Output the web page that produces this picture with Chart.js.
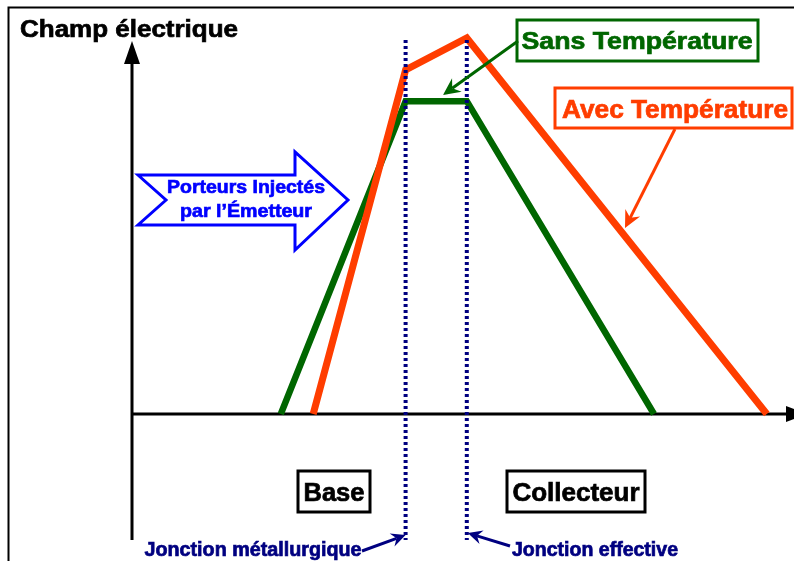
<!DOCTYPE html>
<html lang="fr">
<head>
<meta charset="utf-8">
<title>Champ électrique</title>
<script src="https://cdn.jsdelivr.net/npm/chart.js@4.4.1/dist/chart.umd.min.js"></script>
<style>
  html, body { margin: 0; padding: 0; background: #fff; }
  #wrap { width: 794px; height: 561px; }
</style>
</head>
<body>
<div id="wrap"><canvas id="champ" width="794" height="561"></canvas></div>
<script>
// Profil du champ électrique à travers la jonction base-collecteur
const positionsSansT = [24.8, 45.6, 55.8, 87.0];
const champSansT = [0, 78.2, 78.2, 0];
const positionsAvecT = [30.2, 45.6, 55.8, 105.8];
const champAvecT = [0, 86.0, 94.0, 0];

// Jonctions (traits pointillés verticaux)
const jonctionMetallurgique = 45.6;
const jonctionEffective = 55.8;
const jonctionExtent = [93.5, -31.5];

const ROUGE = '#ff3d00';
const VERT = '#006600';
const MARINE = '#000080';
const BLEU = '#0000ff';
const POLICE = '"Liberation Sans", Arial, sans-serif';

function toPoints(xs, ys) {
    return xs.map((x, i) => ({ x: x, y: ys[i] }));
}

function verticale(x) {
    return jonctionExtent.map(y => ({ x: x, y: y }));
}

// Flèche avec pointe pleine
function fleche(ctx, x1, y1, x2, y2, color, width, head) {
    const a = Math.atan2(y2 - y1, x2 - x1);
    ctx.save();
    ctx.strokeStyle = color;
    ctx.fillStyle = color;
    ctx.lineWidth = width;
    ctx.beginPath();
    ctx.moveTo(x1, y1);
    ctx.lineTo(x2 - Math.cos(a) * head * 0.6, y2 - Math.sin(a) * head * 0.6);
    ctx.stroke();
    ctx.beginPath();
    ctx.moveTo(x2, y2);
    ctx.lineTo(x2 - head * Math.cos(a - 0.45), y2 - head * Math.sin(a - 0.45));
    ctx.lineTo(x2 - head * 0.6 * Math.cos(a), y2 - head * 0.6 * Math.sin(a));
    ctx.lineTo(x2 - head * Math.cos(a + 0.45), y2 - head * Math.sin(a + 0.45));
    ctx.closePath();
    ctx.fill();
    ctx.restore();
}

// Texte gras centré, étiré à la largeur voulue
function texte(ctx, str, cx, baseline, size, width, color) {
    ctx.save();
    ctx.font = 'bold ' + size + 'px ' + POLICE;
    const w = ctx.measureText(str).width;
    ctx.translate(cx, baseline);
    ctx.scale(width / w, 1);
    ctx.fillStyle = color;
    ctx.strokeStyle = color;
    ctx.lineWidth = 0.7;
    ctx.textAlign = 'center';
    ctx.textBaseline = 'alphabetic';
    ctx.fillText(str, 0, 0);
    ctx.strokeText(str, 0, 0);
    ctx.restore();
}

function cadre(ctx, x1, y1, x2, y2, color) {
    ctx.save();
    ctx.strokeStyle = color;
    ctx.lineWidth = 3;
    ctx.strokeRect(x1, y1, x2 - x1, y2 - y1);
    ctx.restore();
}

const schemaPlugin = {
    id: 'schema',
    beforeDatasetsDraw(chart) {
        const ctx = chart.ctx;
        const xs = chart.scales.x, ys = chart.scales.y;
        const x0 = xs.getPixelForValue(0);
        const y0 = ys.getPixelForValue(0);
        ctx.save();
        // bordure de la diapositive
        ctx.strokeStyle = '#000';
        ctx.lineWidth = 2;
        ctx.beginPath();
        ctx.moveTo(8.5, 561);
        ctx.lineTo(8.5, 7.5);
        ctx.lineTo(794, 7.5);
        ctx.stroke();

        // axes
        ctx.lineWidth = 3;
        ctx.beginPath();
        ctx.moveTo(x0, ys.getPixelForValue(jonctionExtent[1]));
        ctx.lineTo(x0, 60);
        ctx.moveTo(x0, y0);
        ctx.lineTo(788, y0);
        ctx.stroke();
        ctx.fillStyle = '#000';
        ctx.beginPath();
        ctx.moveTo(x0, 41);
        ctx.lineTo(x0 - 8, 64);
        ctx.lineTo(x0 + 8, 64);
        ctx.closePath();
        ctx.fill();
        ctx.beginPath();
        ctx.moveTo(808, y0);
        ctx.lineTo(786, y0 - 8);
        ctx.lineTo(786, y0 + 8);
        ctx.closePath();
        ctx.fill();
        ctx.restore();
    },
    afterDatasetsDraw(chart) {
        const ctx = chart.ctx;
        const xs = chart.scales.x;
        const xm = xs.getPixelForValue(jonctionMetallurgique);
        const xe = xs.getPixelForValue(jonctionEffective);

        texte(ctx, 'Champ électrique', 129, 37, 24, 218, '#000');

        // porteurs injectés (flèche bleue)
        ctx.save();
        ctx.strokeStyle = BLEU;
        ctx.lineWidth = 3;
        ctx.lineJoin = 'miter';
        ctx.beginPath();
        ctx.moveTo(138, 175);
        ctx.lineTo(295, 175);
        ctx.lineTo(295, 152);
        ctx.lineTo(348, 200);
        ctx.lineTo(295, 250);
        ctx.lineTo(295, 225);
        ctx.lineTo(138, 225);
        ctx.lineTo(166, 200);
        ctx.closePath();
        ctx.stroke();
        ctx.restore();
        texte(ctx, 'Porteurs Injectés', 246, 193, 18.5, 158, BLEU);
        texte(ctx, 'par l\u2019Émetteur', 246, 217, 18.5, 132, BLEU);

        // légendes des courbes
        cadre(ctx, 517, 20, 758, 61, VERT);
        texte(ctx, 'Sans Température', 637, 49, 24, 231, VERT);
        fleche(ctx, 518, 41, 443, 95, VERT, 3, 19);

        cadre(ctx, 555, 88, 792, 128, ROUGE);
        texte(ctx, 'Avec Température', 675, 118, 25, 226, ROUGE);
        fleche(ctx, 675, 129, 625, 228, ROUGE, 3, 19);

        // régions
        cadre(ctx, 298, 471, 370, 512, '#000');
        texte(ctx, 'Base', 334, 501, 25, 61, '#000');
        cadre(ctx, 507, 471, 645, 512, '#000');
        texte(ctx, 'Collecteur', 576, 501, 25, 127, '#000');

        // jonctions
        texte(ctx, 'Jonction métallurgique', 253, 556, 19.5, 217, MARINE);
        fleche(ctx, 362, 551, xm, 535, MARINE, 3, 16);
        texte(ctx, 'Jonction effective', 595, 556, 19.5, 166, MARINE);
        fleche(ctx, 510, 546, xe + 1, 533, MARINE, 3, 16);
    }
};

const chart = new Chart(document.getElementById('champ'), {
    type: 'scatter',
    data: {
        datasets: [
            {
                label: 'Jonction métallurgique',
                data: verticale(jonctionMetallurgique),
                borderColor: MARINE,
                borderWidth: 4,
                borderDash: [3, 3],
                order: 0
            },
            {
                label: 'Jonction effective',
                data: verticale(jonctionEffective),
                borderColor: MARINE,
                borderWidth: 4,
                borderDash: [3, 3],
                order: 0
            },
            {
                label: 'Avec Température',
                data: toPoints(positionsAvecT, champAvecT),
                borderColor: ROUGE,
                borderWidth: 7,
                order: 1
            },
            {
                label: 'Sans Température',
                data: toPoints(positionsSansT, champSansT),
                borderColor: VERT,
                borderWidth: 6.5,
                order: 2
            }
        ]
    },
    options: {
        responsive: false,
        animation: false,
        showLine: true,
        layout: { padding: { left: 132, right: 2, top: 14, bottom: 147 } },
        scales: {
            x: { type: 'linear', min: 0, max: 110, display: false },
            y: { type: 'linear', min: 0, max: 100, display: false }
        },
        datasets: {
            scatter: { clip: false, pointRadius: 0, pointHoverRadius: 0 }
        },
        elements: {
            line: { tension: 0, borderJoinStyle: 'miter', borderCapStyle: 'butt', fill: false }
        },
        plugins: {
            legend: { display: false },
            tooltip: { enabled: false }
        }
    },
    plugins: [schemaPlugin]
});
</script>
</body>
</html>
